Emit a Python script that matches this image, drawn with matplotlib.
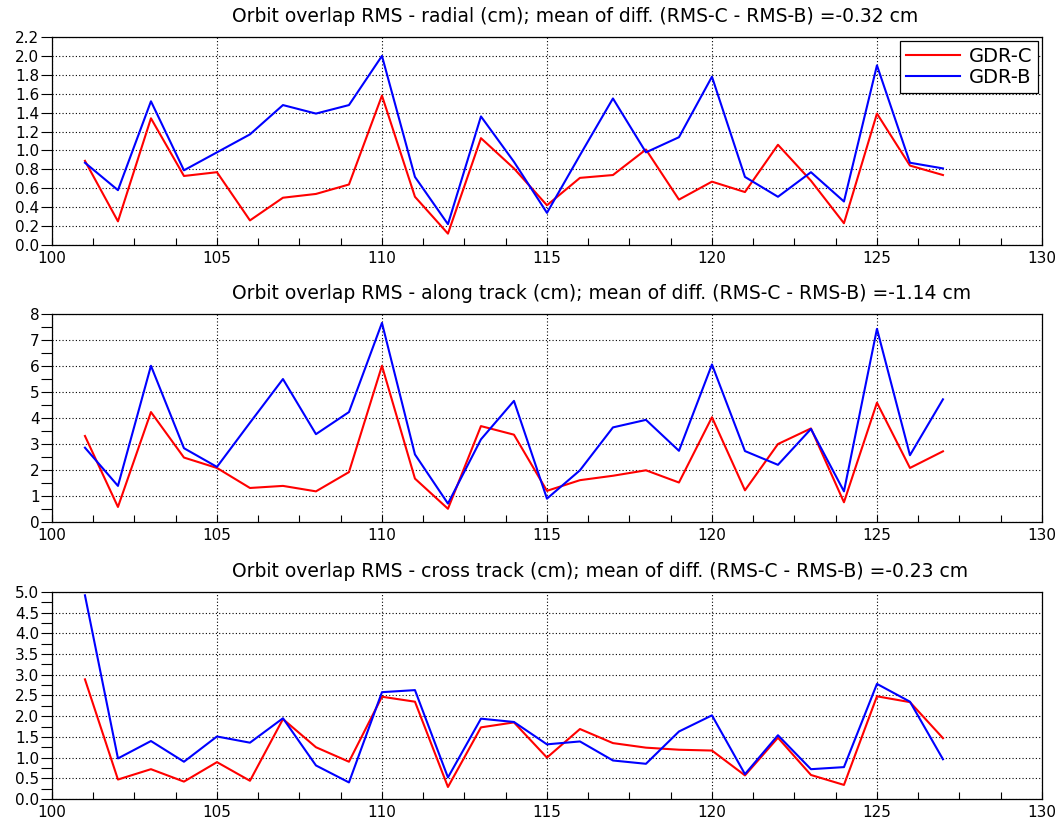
#-----------------------------------------------------------------------------------------

import numpy as np
import matplotlib
matplotlib.use("Agg")
from matplotlib import pyplot as plt
from matplotlib.ticker import MultipleLocator, FormatStrFormatter

plt.rcParams['font.family'] = ['DejaVu Sans']

#-----------------------------------------------------------------------------------------

cycles = list(range(101, 128))

radial_c = [0.89, 0.25, 1.34, 0.73, 0.77, 0.26, 0.50, 0.54, 0.64, 1.58, 0.51, 0.12, 1.13,
            0.81, 0.42, 0.71, 0.74, 1.01, 0.48, 0.67, 0.56, 1.06, 0.68, 0.23, 1.39, 0.84, 0.74]
radial_b = [0.87, 0.58, 1.52, 0.79, 0.98, 1.17, 1.48, 1.39, 1.48, 2.00, 0.72, 0.22, 1.36,
            0.88, 0.34, 0.95, 1.55, 0.98, 1.14, 1.78, 0.72, 0.51, 0.77, 0.46, 1.90, 0.87, 0.81]

along_c = [3.31, 0.58, 4.23, 2.48, 2.08, 1.31, 1.39, 1.18, 1.92, 6.01, 1.67, 0.51, 3.69,
           3.36, 1.20, 1.61, 1.78, 1.99, 1.52, 4.03, 1.22, 3.00, 3.60, 0.76, 4.59, 2.08, 2.72]
along_b = [2.86, 1.39, 6.01, 2.84, 2.12, 3.82, 5.50, 3.38, 4.23, 7.66, 2.60, 0.71, 3.18,
           4.66, 0.90, 1.99, 3.64, 3.93, 2.74, 6.06, 2.73, 2.20, 3.58, 1.18, 7.43, 2.57, 4.72]

cross_c = [2.89, 0.47, 0.72, 0.42, 0.89, 0.44, 1.93, 1.25, 0.90, 2.47, 2.35, 0.29, 1.73,
           1.85, 1.00, 1.69, 1.35, 1.24, 1.19, 1.17, 0.57, 1.48, 0.58, 0.34, 2.48, 2.34, 1.47]
cross_b = [4.92, 0.98, 1.40, 0.90, 1.51, 1.36, 1.95, 0.81, 0.40, 2.58, 2.63, 0.52, 1.94,
           1.86, 1.32, 1.39, 0.93, 0.85, 1.63, 2.02, 0.60, 1.54, 0.72, 0.77, 2.78, 2.35, 0.96]

titles = [
    "Orbit overlap RMS - radial (cm); mean of diff. (RMS-C - RMS-B) =-0.32 cm",
    "Orbit overlap RMS - along track (cm); mean of diff. (RMS-C - RMS-B) =-1.14 cm",
    "Orbit overlap RMS - cross track (cm); mean of diff. (RMS-C - RMS-B) =-0.23 cm",
]

#-----------------------------------------------------------------------------------------

fig = plt.figure(figsize=(10.56, 8.26), dpi=100)

boxes = [[0.0492, 0.7034, 0.9375, 0.2518],
         [0.0492, 0.3680, 0.9375, 0.2518],
         [0.0492, 0.0327, 0.9375, 0.2506]]
# (ymax, major, minor, format)
yset = [(2.2, 0.2, None, '%.1f'),
        (8.0, 1.0, 0.5, '%d'),
        (5.0, 0.5, 0.25, '%.1f')]
series = [(radial_c, radial_b), (along_c, along_b), (cross_c, cross_b)]

for box, (ymax, major, minor, fmt), (yc, yb), title in zip(boxes, yset, series, titles):
    ax = fig.add_axes(box)
    ax.plot(cycles, yc, color='#ff0000', lw=1.5, label='GDR-C')
    ax.plot(cycles, yb, color='#0000ff', lw=1.5, label='GDR-B')

    ax.set_xlim(100, 130)
    ax.set_ylim(0, ymax)
    ax.xaxis.set_major_locator(MultipleLocator(5))
    ax.xaxis.set_minor_locator(MultipleLocator(1.25))
    ax.yaxis.set_major_locator(MultipleLocator(major))
    if minor:
        ax.yaxis.set_minor_locator(MultipleLocator(minor))
    ax.yaxis.set_major_formatter(FormatStrFormatter(fmt))

    ax.grid(True, which='major', color='black', linestyle=(0, (1, 2)), lw=0.8)
    ax.tick_params(axis='x', which='both', direction='in', length=5, width=0.8,
                   labelsize=11, pad=4)
    ax.tick_params(axis='y', which='both', direction='out', length=8, width=0.8,
                   labelsize=11, pad=1)
    for sp in ax.spines.values():
        sp.set_linewidth(0.9)
    ax.set_title(title, fontsize=13.5, pad=11, loc='left', x=0.182)

    if ymax == 2.2:
        leg = ax.legend(loc='upper right', fontsize=14, fancybox=False, framealpha=1,
                        edgecolor='black', handlelength=2.8, handletextpad=0.45,
                        borderpad=0.3, labelspacing=0.1, borderaxespad=0.2)
        leg.get_frame().set_linewidth(0.9)

fig.savefig("out.png", dpi=100)
